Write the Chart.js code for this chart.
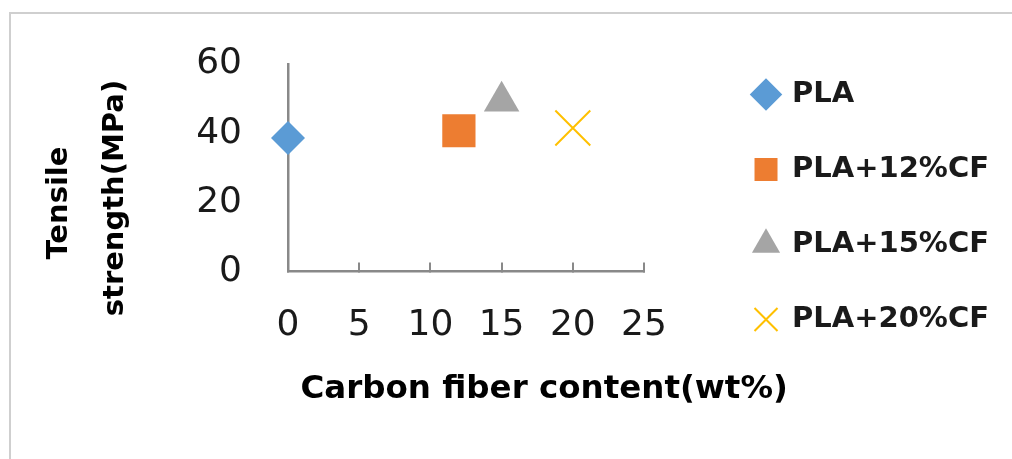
<!DOCTYPE html>
<html>
<head>
<meta charset="utf-8">
<script src="https://cdn.jsdelivr.net/npm/chart.js@4"></script>
<style>
  html, body { margin: 0; padding: 0; background: #ffffff; }
  #wrap { position: relative; width: 1012px; height: 459px; overflow: hidden; }
  #frame { position: absolute; left: 9px; top: 12px; width: 1100px; height: 600px;
           border-top: 2px solid #cfcfcf; border-left: 2px solid #cfcfcf; box-sizing: border-box; }
  canvas { position: absolute; left: 0; top: 0; }
</style>
</head>
<body>
<div id="wrap">
  <div id="frame"></div>
  <canvas id="c" width="1012" height="459"></canvas>
</div>
<script>
// ---- data ----
const seriesNames = ['PLA', 'PLA+12%CF', 'PLA+15%CF', 'PLA+20%CF'];
const fiberContent = [0, 12, 15, 20];          // wt%
const tensileStrength = [38.6, 40.7, 49.2, 41.5]; // MPa
const xTickValues = [0, 5, 10, 15, 20, 25];
const yTickValues = [0, 20, 40, 60];
const xTitle = 'Carbon fiber content(wt%)';
const yTitleLines = ['Tensile', 'strength(MPa)'];

// ---- styles ----
const colors = ['#5B9BD5', '#ED7D31', '#A5A5A5', '#FFC000'];
const pointStyles = ['rectRot', 'rect', 'triangle', 'crossRot'];
const pointRadii = [17, 23.5, 20.5, 24.7];
const pointBorders = [0, 0, 0, 2];
const axisColor = '#898989';
const textColor = '#1a1a1a';

Chart.defaults.font.family = "'DejaVu Sans', sans-serif";

const datasets = seriesNames.map((name, i) => ({
  label: name,
  data: [{ x: fiberContent[i], y: tensileStrength[i] }],
  pointStyle: pointStyles[i],
  pointRadius: pointRadii[i],
  pointHoverRadius: pointRadii[i],
  backgroundColor: colors[i],
  borderColor: colors[i],
  borderWidth: pointBorders[i],
  showLine: false,
  clip: false
}));

new Chart(document.getElementById('c'), {
  type: 'scatter',
  data: { datasets },
  options: {
    responsive: false,
    animation: false,
    devicePixelRatio: 1,
    layout: { padding: { top: 34, right: 13, bottom: 0, left: 10 } },
    plugins: {
      tooltip: { enabled: false },
      // empty spacer above the plot
      title: { display: true, position: 'top', text: '', padding: 0, font: { size: 28, lineHeight: 1 } },
      // x-axis title, centred under the plot as in the reference
      subtitle: {
        display: true,
        position: 'bottom',
        align: 'center',
        text: '       ' + xTitle,
        color: '#000000',
        font: { size: 32.5, weight: 'bold', lineHeight: 1 },
        padding: { top: 0, bottom: 52.75 }
      },
      legend: {
        display: true,
        position: 'right',
        align: 'start',
        maxWidth: 400,
        labels: {
          usePointStyle: true,
          boxWidth: 23,
          boxHeight: 23,
          padding: 46,
          color: textColor,
          font: { size: 29, weight: 'bold' }
        }
      }
    },
    scales: {
      x: {
        type: 'linear',
        position: 'bottom',
        min: xTickValues[0],
        max: xTickValues[xTickValues.length - 1],
        afterBuildTicks: s => { s.ticks = xTickValues.map(v => ({ value: v })); },
        afterFit: s => { s.height = 102.25; },
        grid: { display: true, drawOnChartArea: false, drawTicks: true, tickLength: -9, color: axisColor, lineWidth: 2 },
        border: { display: true, color: axisColor, width: 2.5 },
        ticks: { padding: 45, color: textColor, font: { size: 36, lineHeight: 1 }, maxRotation: 0, autoSkip: false },
        title: { display: false }
      },
      y: {
        type: 'linear',
        position: 'left',
        min: yTickValues[0],
        max: yTickValues[yTickValues.length - 1],
        afterBuildTicks: s => { s.ticks = yTickValues.map(v => ({ value: v })); },
        afterFit: s => { s.width = 278; },
        grid: { display: false, drawTicks: false },
        border: { display: true, color: axisColor, width: 2.5 },
        ticks: { padding: 46, color: textColor, font: { size: 36, lineHeight: 1 }, autoSkip: false },
        title: {
          display: true,
          text: [yTitleLines[0] + '       ', yTitleLines[1] + '      '],
          color: '#000000',
          font: { size: 29, weight: 'bold', lineHeight: '56px' },
          padding: { top: 21, bottom: 0 }
        }
      },
      gap: {
        type: 'linear',
        position: 'right',
        display: true,
        afterFit: s => { s.width = 64.5; },
        grid: { display: false },
        border: { display: false },
        ticks: { display: false }
      }
    }
  }
});
</script>
</body>
</html>
